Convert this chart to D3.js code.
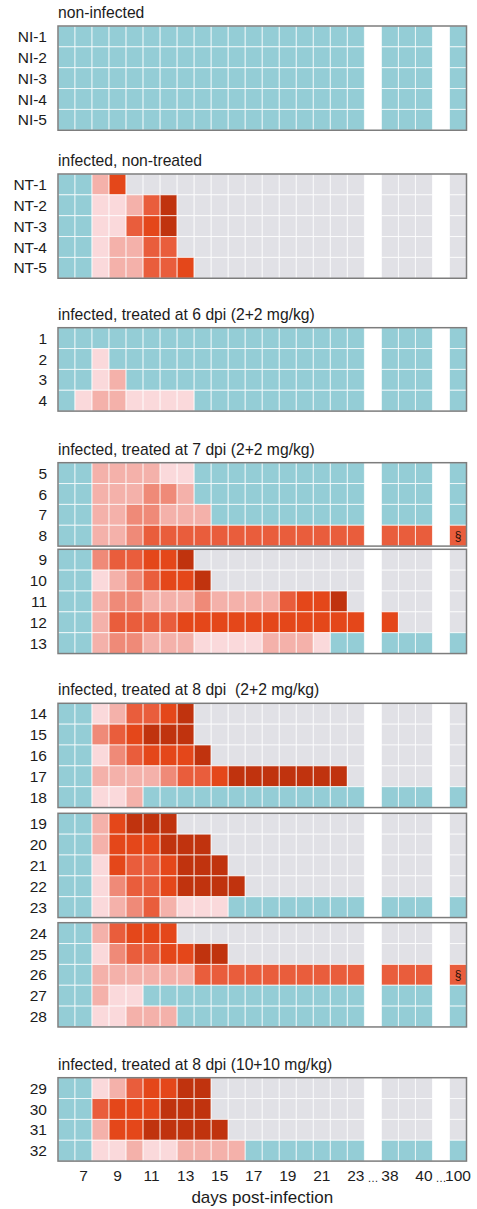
<!DOCTYPE html>
<html>
<head>
<meta charset="utf-8">
<script src="https://cdn.jsdelivr.net/npm/d3@7"></script>
<style>
body{margin:0;background:#fff}
text{font-family:"Liberation Sans",Arial,sans-serif;fill:#1c1c1c}
</style>
</head>
<body>
<svg id="chart" width="477" height="1209"></svg>
<script>
// days post-infection that have a column, breaks drawn after 23 and 40
var days = [6,7,8,9,10,11,12,13,14,15,16,17,18,19,20,21,22,23,38,39,40,100]
var breaksAfter = [23,40]
var tickDays = [7,9,11,13,15,17,19,21,23,38,40,100]

var titles = [
    "non-infected",
    "infected, non-treated",
    "infected, treated at 6 dpi (2+2 mg/kg)",
    "infected, treated at 7 dpi (2+2 mg/kg)",
    "infected, treated at 8 dpi  (2+2 mg/kg)",
    "infected, treated at 8 dpi (10+10 mg/kg)"
]

// cell codes: t = negative, g = no sample, 1..6 = signal level (low -> high)
// segments: days 6-23 | 38-40 | 100
var niNames = ["NI-1","NI-2","NI-3","NI-4","NI-5"]
var niCells = [
    "tttttttttttttttttt|ttt|t",
    "tttttttttttttttttt|ttt|t",
    "tttttttttttttttttt|ttt|t",
    "tttttttttttttttttt|ttt|t",
    "tttttttttttttttttt|ttt|t"
]
var ntNames = ["NT-1","NT-2","NT-3","NT-4","NT-5"]
var ntCells = [
    "tt25gggggggggggggg|ggg|g",
    "tt11246ggggggggggg|ggg|g",
    "tt11456ggggggggggg|ggg|g",
    "tt12244ggggggggggg|ggg|g",
    "tt122445gggggggggg|ggg|g"
]
var t6Names = ["1","2","3","4"]
var t6Cells = [
    "tttttttttttttttttt|ttt|t",
    "tt1ttttttttttttttt|ttt|t",
    "tt12tttttttttttttt|ttt|t",
    "t1221111tttttttttt|ttt|t"
]
var t7aNames = ["5","6","7","8"]
var t7aCells = [
    "tt222211tttttttttt|ttt|t",
    "tt222332tttttttttt|ttt|t",
    "tt2233222ttttttttt|ttt|t",
    "tt2234444444444444|444|4"
]
var t7bNames = ["9","10","11","12","13"]
var t7bCells = [
    "tt344556gggggggggg|ggg|g",
    "tt1234556ggggggggg|ggg|g",
    "tt233222322224556g|ggg|g",
    "tt2444455555555555|5gg|g",
    "tt23322211112221tt|ttt|t"
]
var t8aNames = ["14","15","16","17","18"]
var t8aCells = [
    "tt124456gggggggggg|ggg|g",
    "tt345666gggggggggg|ggg|g",
    "tt1345556ggggggggg|ggg|g",
    "tt222234456666666g|ggg|g",
    "tt112ttttttttttttt|ttt|t"
]
var t8bNames = ["19","20","21","22","23"]
var t8bCells = [
    "tt25666ggggggggggg|ggg|g",
    "tt2555666ggggggggg|ggg|g",
    "tt15445666gggggggg|ggg|g",
    "tt134456666ggggggg|ggg|g",
    "tt12342111tttttttt|ttt|t"
]
var t8cNames = ["24","25","26","27","28"]
var t8cCells = [
    "tt24555ggggggggggg|ggg|g",
    "tt13445566gggggggg|ggg|g",
    "tt2222224444444444|444|4",
    "tt211ttttttttttttt|ttt|t",
    "tt11222ttttttttttt|ttt|t"
]
var t8hNames = ["29","30","31","32"]
var t8hCells = [
    "tt1245566ggggggggg|ggg|g",
    "tt4555666ggggggggg|ggg|g",
    "tt25566666gggggggg|ggg|g",
    "tt112112222ttttttt|ttt|t"
]
// rows marked with § on the last day
var markedRows = ["8","26"]

var codes = ["t","g","1","2","3","4","5","6"]
var codeColors = ["#94cdd6","#e1e1e6","#fad9db","#f4b1aa","#ef8a78","#e95d3c","#e4471a","#c0330e"]

// layout
var LEFT = 58, RIGHT = 466.5, ROW_H = 20.85
var blocks = [
    {group:0, names:niNames, cells:niCells, top:26},
    {group:1, names:ntNames, cells:ntCells, top:174},
    {group:2, names:t6Names, cells:t6Cells, top:327.7},
    {group:3, names:t7aNames, cells:t7aCells, top:462.7},
    {group:3, names:t7bNames, cells:t7bCells, top:549.3},
    {group:4, names:t8aNames, cells:t8aCells, top:703.3},
    {group:4, names:t8bNames, cells:t8bCells, top:813.3},
    {group:4, names:t8cNames, cells:t8cCells, top:922.7},
    {group:5, names:t8hNames, cells:t8hCells, top:1077.7}
]

var svg = d3.select("#chart")

var slots = []
days.forEach(d => {
    slots.push(String(d))
    if (breaksAfter.includes(d)) slots.push("gap" + d)
})
var x = d3.scaleBand().domain(slots).range([LEFT, RIGHT])
var color = d3.scaleOrdinal().domain(codes).range(codeColors)

var titleDone = []
blocks.forEach(b => {
    var bottom = b.top + b.names.length * ROW_H
    var y = d3.scaleBand().domain(b.names).range([b.top, bottom])
    var g = svg.append("g")

    if (!titleDone.includes(b.group)) {
        titleDone.push(b.group)
        g.append("text")
            .attr("x", LEFT)
            .attr("y", b.top - 8)
            .style("font-size", "15.7px")
            .style("white-space", "pre")
            .text(titles[b.group])
    }

    b.names.forEach((name, r) => {
        var row = b.cells[r].split("|").join("").split("").map((c, j) => ({day: days[j], c: c}))
        g.selectAll(null).data(row).enter().append("rect")
            .attr("x", d => x(String(d.day)))
            .attr("y", y(name))
            .attr("width", x.bandwidth())
            .attr("height", y.bandwidth())
            .attr("fill", d => color(d.c))
            .attr("stroke", "#fff")
            .attr("stroke-width", 1)
            .attr("stroke-opacity", 0.7)
        if (markedRows.includes(name)) {
            g.append("text")
                .attr("x", x(String(days[days.length - 1])) + x.bandwidth() / 2)
                .attr("y", y(name) + y.bandwidth() / 2)
                .attr("dy", "0.36em")
                .attr("text-anchor", "middle")
                .style("font-size", "12px")
                .style("fill", "#2a120a")
                .text("§")
        }
    })

    g.selectAll("text.rowlab").data(b.names).enter().append("text")
        .attr("class", "rowlab")
        .attr("x", 47)
        .attr("y", d => y(d) + y.bandwidth() / 2)
        .attr("dy", "0.36em")
        .attr("text-anchor", "end")
        .style("font-size", "15.5px")
        .text(d => d)

    g.append("rect")
        .attr("x", LEFT)
        .attr("y", b.top)
        .attr("width", RIGHT - LEFT)
        .attr("height", bottom - b.top)
        .attr("fill", "none")
        .attr("stroke", "#7d7d7d")
        .attr("stroke-width", 1.5)
})

// x axis
var lastBlock = blocks[blocks.length - 1]
var axisY = lastBlock.top + lastBlock.names.length * ROW_H
var tickSlots = slots.filter(s => s.startsWith("gap") || tickDays.includes(+s))
var xAxis = d3.axisBottom(x)
    .tickValues(tickSlots)
    .tickSize(0)
    .tickPadding(9)
    .tickFormat(s => s.startsWith("gap") ? "…" : s)
var ax = svg.append("g").attr("transform", "translate(0," + axisY + ")").call(xAxis)
ax.select(".domain").remove()
ax.selectAll("text")
    .style("font-family", '"Liberation Sans",Arial,sans-serif')
    .style("font-size", "15.5px")
    .style("fill", "#1c1c1c")
ax.selectAll(".tick").filter(s => s.startsWith("gap")).select("text")
    .style("font-size", "11px")
    .attr("dy", "1.1em")

svg.append("text")
    .attr("x", (LEFT + RIGHT) / 2)
    .attr("y", 1203)
    .attr("text-anchor", "middle")
    .style("font-size", "17px")
    .text("days post-infection")
</script>
</body>
</html>
